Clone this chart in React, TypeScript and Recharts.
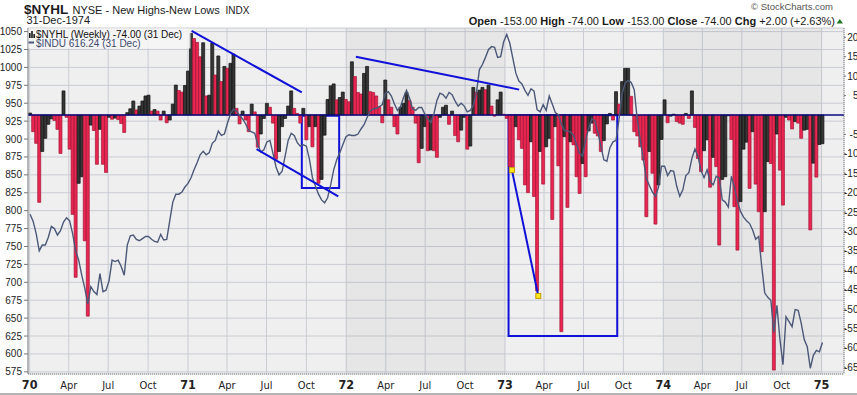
import React from 'react';
import {
  ComposedChart, Bar, Line, XAxis, YAxis, CartesianGrid,
  ReferenceLine, ReferenceArea, ReferenceDot, Cell,
} from 'recharts';

const FONT = "'Liberation Sans', Arial, sans-serif";
const NARROW = "'Liberation Sans Narrow', 'DejaVu Sans Condensed', 'Liberation Sans', sans-serif";

// first weekly bar: week ending Fri 2-Jan-1970
const startDate = Date.UTC(1970, 0, 2);
const WEEK_MS = 7 * 86400000;

// $NYHL weekly values (one per week, Jan 1970 .. 31 Dec 1974)
const nyhl = [
  5, -43, -73, -225, -94, -60, -24, -10, -14, -37,
  -99, 62, -6, -88, -256, -418, -176, -159, -324, -518,
  -26, -40, -127, -37, -127, -148, -6, -11, -8, -12,
  -22, -45, 6, 16, 36, 13, 23, 36, 49, 51,
  10, 14, 10, -13, 10, -20, -13, 28, 77, 63,
  59, 76, 113, 210, 197, 187, 150, 186, 49, 51,
  185, 103, 152, 86, 125, 120,
  133, 157, 17, -23, 10, -13, -43, 28, 8, -83,
  -49, -9, 30, 20, -21, -114, -94, -30, -9, 23,
  62, 17, 4, -21, 17, -64, -30, -82, -30, -176,
  -166, -52, 40, 75, 80, 39, 45, 59, 40, 34,
  137, 99, 58, 54, 107, 125, 60, 58, 49, 21,
  -20, 90, 39, 20, -30, -49, 20, 30, 58, 37,
  20, -21, -123, -86, -30, -92,
  -90, -92, -109, -6, 20, 25, -24, 10, -53, -69,
  -39, -6, -88, -80, 71, 58, 64, 71, 65, 77,
  23, -3, 39, 59, 2, -9, -133, -146, -30, -64,
  -86, -180, -200, -69, -210, -453, -94, -178, -82, -60,
  -269, -30, -131, -558, -56, -238, -69, -77, -159, -202,
  -125, -159, -41, -21, -47, -54, -94, -66, -23, 4,
  -13, 60, 28, 86, 120, 120,
  48, -43, -54, -82, -116, -262, -94, -150, -281,
  -180, -63, 39, -20, -3, 2, -17, -21, -24, 4, -9, 62,
  -32, -112, -146, -92, -64, -186, -109, -133, -335,
  -166, -159, -2, -63, -236, -348,
  -223, -88, -70, -189, -43, -178, -249, -352,
  -249, -120, -125, -657,
  -49, -142, -232, -6, -13, -36, -17, -21, -60, -39, -37,
  -296, -124, -160, -76, -74,
];

// $INDU weekly closes, same weeks
const indu = [
  795, 785, 768, 744, 752, 752, 763, 778, 775, 766,
  772, 784, 790, 786, 768, 744, 731, 710, 692, 670,
  694, 687, 683, 712, 687, 689, 702, 731, 729, 731,
  722, 710, 752, 765, 766, 760, 758, 761, 764, 764,
  760, 757, 756, 767, 759, 760, 786, 812, 823, 823,
  826, 833, 838, 846, 857, 867, 878, 883, 878, 881,
  894, 898, 911, 905, 907, 922,
  935, 942, 939, 933, 928, 921, 912, 910, 908, 892,
  882, 885, 896, 898, 880, 861, 850, 855, 876, 898,
  908, 905, 895, 890, 892, 890, 872, 846, 834, 823,
  815, 811, 818, 836, 857, 871, 881, 892, 903, 906,
  905, 905, 907, 914, 920, 930, 939, 942, 943, 945,
  948, 964, 966, 960, 949, 940, 945, 958, 968, 957,
  942, 940, 944, 944, 935, 928,
  923, 935, 954, 964, 962, 957, 965, 962, 953, 946,
  950, 946, 938, 940, 947, 964, 997, 1004, 1014, 1025,
  1029, 1028, 1014, 1015, 1036, 1046, 1034, 1013, 992, 981,
  977, 968, 961, 970, 967, 941, 938, 948, 940, 960,
  949, 937, 934, 921, 912, 911, 910, 905, 892, 880,
  876, 899, 915, 928, 926, 910, 890, 871, 869, 888,
  896, 898, 928, 963, 978, 982,
  979, 969, 927, 898, 872, 845, 835, 826, 820, 833,
  862, 862, 849, 856, 855, 834, 820, 829, 849, 853,
  873, 886, 876, 856, 846, 857, 841, 836, 848, 846,
  815, 812, 805, 848, 833, 813, 799, 791, 786, 782,
  773, 760, 764, 722, 685, 679, 675, 630, 668, 620,
  585, 652, 645, 638, 662, 661, 643, 620, 610, 580,
  598, 605, 603, 616,
];

const xTickLabels = [
  '70', 'Apr', 'Jul', 'Oct', '71', 'Apr', 'Jul', 'Oct', '72', 'Apr', 'Jul', 'Oct',
  '73', 'Apr', 'Jul', 'Oct', '74', 'Apr', 'Jul', 'Oct', '75',
];
const priceTicks = [1050, 1025, 1000, 975, 950, 925, 900, 875, 850, 825, 800, 775, 750, 725, 700, 675, 650, 625, 600, 575];
const nyhlTicks = [200, 150, 100, 50, -50, -100, -150, -200, -250, -300, -350, -400, -450, -500, -550, -600, -650];

// drawn annotations (week index, axis value)
const trendLines = [
  { axis: 0, a: { x: 53.2, y: 1051 }, b: { x: 89.5, y: 965 } },
  { axis: 0, a: { x: 74.6, y: 886 }, b: { x: 101.5, y: 820 } },
  { axis: 0, a: { x: 107.3, y: 1015 }, b: { x: 161.1, y: 969 } },
  { axis: 'r', a: { x: 158.7, y: -142 }, b: { x: 167.4, y: -466 } },
];
const boxes = [
  { x1: 89.5, x2: 101.8, y1: -2, y2: -188 },
  { x1: 157.6, x2: 193.4, y1: -1, y2: -569 },
];
const markers = [{ x: 158.7, y: -142 }, { x: 167.4, y: -466 }];

const weekIndex = (y: number, m: number) => (Date.UTC(y, m, 1) - startDate) / WEEK_MS;
const xTicks = xTickLabels.map((_, i) => weekIndex(1970 + Math.floor(i / 4), (i % 4) * 3));
const labelByTick = new Map<number, string>(xTicks.map((t, i) => [t, xTickLabels[i]]));
const shadedYears = [1972, 1974];

const rows = nyhl.map((v, i) => ({ w: i, nyhl: v, indu: indu[i] }));

const XTick = (props: any) => {
  const { x, y, payload } = props;
  const lab = labelByTick.get(payload.value) ?? '';
  const isYear = /^\d/.test(lab);
  return (
    <text x={x} y={y + 15} textAnchor="middle" fontFamily={NARROW}
      fontSize={isYear ? 12.5 : 11} fontWeight={isYear ? 'bold' : 'normal'} fill="#222">
      {lab}
    </text>
  );
};

// right-axis labels are right-aligned past the picture's edge, so they are cut
const RightTick = (props: any) => {
  const { x, y, payload } = props;
  return (
    <text x={x + 18} y={y + 3.5} textAnchor="end" fontFamily={FONT} fontSize={10} fill="#222">
      {payload.value}
    </text>
  );
};

const BLUE = '#1010d8';

export default function App() {
  return (
    <div style={{ position: 'absolute', left: 0, top: 0, width: 857, height: 395, overflow: 'hidden', background: '#fff' }}>
      <ComposedChart width={857} height={395} data={rows} margin={{ top: 28, right: 0, bottom: 0, left: 0 }}>
        <CartesianGrid stroke="#c9ccd4" fill="#efefef" strokeWidth={1} />
        {shadedYears.map((y) => (
          <ReferenceArea key={y} x1={weekIndex(y, 0)} x2={weekIndex(y + 1, 0)} yAxisId={0}
            fill="#000" fillOpacity={0.035} stroke="none" ifOverflow="hidden" />
        ))}
        <XAxis dataKey="w" type="number" domain={[-0.7, 268.1]} ticks={xTicks} interval={0}
          allowDataOverflow tick={<XTick />} tickLine={false} tickSize={0} tickMargin={0}
          axisLine={{ stroke: '#8a8a8a', strokeDasharray: '1 1' }} height={21} />
        <YAxis yAxisId={0} orientation="left" domain={[572, 1055]} ticks={priceTicks} interval={0}
          allowDataOverflow width={28} tickSize={4} tickMargin={2}
          tick={{ fontSize: 10, fill: '#222', fontFamily: FONT }}
          axisLine={{ stroke: '#8a8a8a' }} tickLine={{ stroke: '#777' }} />
        <YAxis yAxisId="r" orientation="right" domain={[-667, 224]} ticks={nyhlTicks} interval={0}
          allowDataOverflow width={13} tickSize={2} tickMargin={0}
          tick={<RightTick />}
          axisLine={{ stroke: '#8a8a8a', strokeDasharray: '1 1' }} tickLine={{ stroke: '#777' }} />
        <Bar yAxisId="r" dataKey="nyhl" barSize={3} isAnimationActive={false}>
          {rows.map((r, i) => {
            const up = i === 0 || r.nyhl >= nyhl[i - 1];
            return (
              <Cell key={i} fill={up ? '#363636' : '#e8264f'} stroke={up ? '#0e0e0e' : '#a3163a'} strokeWidth={0.7} />
            );
          })}
        </Bar>
        <ReferenceLine yAxisId="r" y={0} stroke="#0a0a80" strokeWidth={1.5} />
        <Line yAxisId={0} dataKey="indu" type="linear" stroke="#4b5878" strokeWidth={1.4}
          dot={false} activeDot={false} isAnimationActive={false} />
        {trendLines.map((t, i) => (
          <ReferenceLine key={i} yAxisId={t.axis} segment={[t.a, t.b]} stroke={BLUE} strokeWidth={2} ifOverflow="visible" />
        ))}
        {boxes.map((b, i) => (
          <ReferenceArea key={i} yAxisId="r" x1={b.x1} x2={b.x2} y1={b.y1} y2={b.y2}
            fill="none" fillOpacity={0} stroke={BLUE} strokeWidth={2} ifOverflow="visible" />
        ))}
        {markers.map((m, i) => (
          <ReferenceDot key={i} yAxisId="r" x={m.x} y={m.y} r={3} ifOverflow="visible"
            shape={(p: any) => (
              <rect x={p.cx - 2.5} y={p.cy - 2.5} width={5} height={5} fill="#ffe81a" stroke="#c79a00" strokeWidth={1} />
            )} />
        ))}
      </ComposedChart>

      <svg width={857} height={395} style={{ position: 'absolute', left: 0, top: 0, pointerEvents: 'none' }}>
        <g fontFamily={FONT} fill="#1a1a1a">
          <text x={24} y={13.5} fontSize={13.5} fontWeight="bold">$NYHL</text>
          <text x={72.5} y={13.5} fontSize={11}>NYSE - New Highs-New Lows</text>
          <text x={225.5} y={13.5} fontSize={10}>INDX</text>
          <text x={26.5} y={23.5} fontSize={11}>31-Dec-1974</text>
          <text x={833} y={10} fontSize={9.5} textAnchor="end" fill="#555">© StockCharts.com</text>
          <text x={835} y={24.5} fontSize={11} textAnchor="end">
            <tspan fontWeight="bold">Open</tspan> -153.00  <tspan fontWeight="bold">High</tspan> -74.00  <tspan fontWeight="bold">Low</tspan> -153.00  <tspan fontWeight="bold">Close</tspan> -74.00  <tspan fontWeight="bold">Chg</tspan> +2.00 (+2.63%)
          </text>
          <path d="M836.5 23.5 L839.8 19 L843 23.5 Z" fill="#1f7a1f" />
        </g>
        <rect x={28.5} y={28.5} width={162} height={20} fill="#f6f6f6" fillOpacity={0.85} />
        <g fill="#1a1a1a">
          <rect x={29} y={33} width={1.6} height={5} />
          <rect x={31.2} y={31} width={1.6} height={7} />
          <rect x={33.4} y={34} width={1.6} height={4} />
        </g>
        <text x={36} y={37.5} fontFamily={FONT} fontSize={10} fill="#111">$NYHL (Weekly) -74.00 (31 Dec)</text>
        <line x1={28.5} y1={42.5} x2={34} y2={42.5} stroke="#4b5878" strokeWidth={2} />
        <text x={36} y={47} fontFamily={FONT} fontSize={10} fill="#3c4a6e">$INDU 616.24 (31 Dec)</text>
        <line x1={0} y1={394} x2={857} y2={394} stroke="#9a9a9a" strokeWidth={1.5} />
      </svg>
    </div>
  );
}
